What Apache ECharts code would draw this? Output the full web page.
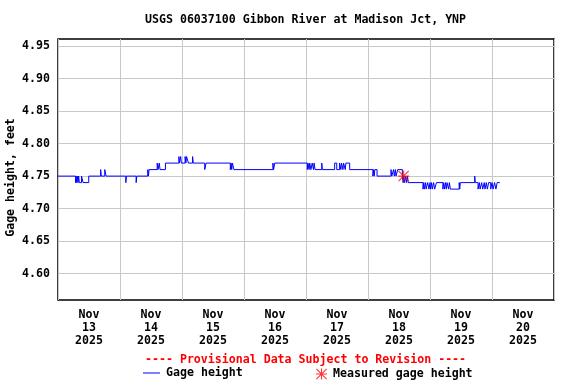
<!DOCTYPE html>
<html>
<head>
<meta charset="utf-8">
<script src="https://cdn.jsdelivr.net/npm/echarts@6/dist/echarts.min.js"></script>
<style>
html,body{margin:0;padding:0;background:#fff;}
#chart{width:576px;height:384px;}
</style>
</head>
<body>
<div id="chart"></div>
<script>
// Hours since Nov 13 2025 00:00 at which the gage height changes, and the new value
var gageHours = [0,6.8,7.0,7.25,7.5,7.75,8.0,8.25,9.1,9.7,11.9,16.5,16.75,18.1,18.6,26.25,26.5,30.25,30.5,
  34.75,35.0,35.25,38.4,38.7,39.2,39.5,41.6,46.8,47.0,47.5,47.75,49.2,49.5,49.75,50.5,52.1,52.35,56.8,57.3,
  66.7,67.0,67.25,67.5,68.1,83.2,83.45,83.9,96.5,96.75,97.2,97.45,97.9,98.4,98.9,99.15,99.5,102.1,102.35,
  107.1,107.9,109.0,109.5,109.75,110.3,110.55,111.2,111.45,112.9,121.9,122.15,122.4,122.65,123.5,
  128.9,129.2,129.9,130.2,130.6,130.85,131.5,133.3,133.6,133.85,134.1,134.6,134.85,135.3,135.55,
  141.3,141.6,141.8,142.3,142.5,143.1,143.6,144.0,144.25,144.6,144.9,145.4,145.8,146.5,
  149.0,149.3,149.6,150.0,150.3,150.6,151.2,151.5,151.9,155.3,155.5,155.75,161.3,161.55,
  162.6,163.1,163.4,164.0,164.4,165.0,165.3,165.8,166.2,166.7,167.5,168.0,168.4,169.0,169.5,170.0,171.0];
var gageValues = [4.75,4.74,4.75,4.74,4.75,4.74,4.75,4.74,4.75,4.74,4.75,4.76,4.75,4.76,4.75,4.74,4.75,4.74,4.75,
  4.76,4.75,4.76,4.77,4.76,4.77,4.76,4.77,4.78,4.77,4.78,4.77,4.78,4.77,4.78,4.77,4.78,4.77,4.76,4.77,
  4.76,4.77,4.76,4.77,4.76,4.77,4.76,4.77,4.76,4.77,4.76,4.77,4.76,4.77,4.76,4.77,4.76,4.77,4.76,
  4.77,4.76,4.77,4.76,4.77,4.76,4.77,4.76,4.77,4.76,4.75,4.76,4.75,4.76,4.75,
  4.76,4.75,4.76,4.75,4.76,4.75,4.76,4.75,4.74,4.75,4.74,4.75,4.74,4.75,4.74,
  4.73,4.74,4.73,4.74,4.73,4.74,4.73,4.74,4.73,4.74,4.73,4.74,4.73,4.74,
  4.73,4.74,4.73,4.74,4.73,4.74,4.73,4.74,4.73,4.74,4.73,4.74,4.75,4.74,
  4.73,4.74,4.73,4.74,4.73,4.74,4.73,4.74,4.73,4.74,4.73,4.74,4.73,4.74,4.73,4.74,4.74];
var measuredHours = [133.8];
var measuredValues = [4.75];
var dayLabels = ['Nov\n13\n2025','Nov\n14\n2025','Nov\n15\n2025','Nov\n16\n2025','Nov\n17\n2025','Nov\n18\n2025','Nov\n19\n2025','Nov\n20\n2025'];
var yTicks = [4.60,4.65,4.70,4.75,4.80,4.85,4.90,4.95];
var dayHourTicks = [0,24,48,72,96,120,144,168,192];

var FONT = 'DejaVu Sans Mono';
var FS = 11.6;
var TS = {fontFamily:FONT, fontWeight:'bold', fontSize:FS, color:'#000'};
var lineData = gageHours.map(function(h,i){return [h, gageValues[i]];});
var measData = measuredHours.map(function(h,i){return [h, measuredValues[i]];});
var asterisk = 'path://M0 9H20V11H0Z M9 0H11V20H9Z M0 1.4L1.4 0L20 18.6L18.6 20Z M18.6 0L20 1.4L1.4 20L0 18.6Z';

var chart = echarts.init(document.getElementById('chart'), null, {renderer:'canvas'});
chart.setOption({
  animation:false,
  backgroundColor:'#fff',
  textStyle:TS,
  title:[
    {text:'USGS 06037100 Gibbon River at Madison Jct, YNP', left:145, top:14, padding:0, textStyle:TS},
    {text:'---- Provisional Data Subject to Revision ----', left:145, top:354, padding:0,
     textStyle:{fontFamily:FONT, fontWeight:'bold', fontSize:FS, color:'#ff0000'}}
  ],
  legend:[
    {left:143, top:367, padding:0, itemWidth:17, itemHeight:1, itemGap:0, icon:'rect',
     textStyle:{fontFamily:FONT, fontWeight:'bold', fontSize:FS, color:'#000', padding:[0,0,0,1]}, data:[{name:'Gage height'}]},
    {left:316, top:368, padding:0, itemWidth:13, itemHeight:11,
     textStyle:TS, data:[{name:'Measured gage height'}]}
  ],
  grid:{left:58, top:39, width:496, height:261, show:true, borderColor:'#000', borderWidth:1.5,
    backgroundColor:'#fff', containLabel:false, outerBoundsMode:'none'},
  xAxis:[
    {type:'value', min:0, max:192, position:'bottom',
     axisLine:{show:false}, axisTick:{show:false, customValues:dayHourTicks}, axisLabel:{show:false, customValues:dayHourTicks},
     splitLine:{show:true, lineStyle:{color:'#c8c8c8', width:1}}},
    {type:'category', data:dayLabels, boundaryGap:true, position:'bottom',
     axisLine:{show:false}, axisTick:{show:false}, splitLine:{show:false},
     axisLabel:{show:true, interval:0, margin:8, lineHeight:13, fontFamily:FONT, fontWeight:'bold', fontSize:FS, color:'#000'}}
  ],
  yAxis:{type:'value', min:4.5595, max:4.9608,
    name:'Gage height, feet', nameLocation:'middle', nameGap:41, nameRotate:90, nameMoveOverlap:false,
    nameTextStyle:{fontFamily:FONT, fontWeight:'bold', fontSize:FS, color:'#000', padding:[0,16,0,0]},
    axisLine:{show:false}, axisTick:{show:false, customValues:yTicks},
    axisLabel:{customValues:yTicks, margin:8, fontFamily:FONT, fontWeight:'bold', fontSize:FS, color:'#000',
      formatter:function(v){return v.toFixed(2);}},
    splitLine:{show:true, lineStyle:{color:'#c8c8c8', width:1}}},
  series:[
    {name:'Gage height', type:'line', xAxisIndex:0, step:'end', data:lineData, symbol:'none', showSymbol:false,
     lineStyle:{color:'#0000ff', width:1}, itemStyle:{color:'#0000ff'}, z:3},
    {name:'Measured gage height', type:'scatter', xAxisIndex:0, data:measData, symbol:asterisk, symbolSize:11,
     itemStyle:{color:'#ff0000'}, z:4}
  ]
});
</script>
</body>
</html>
